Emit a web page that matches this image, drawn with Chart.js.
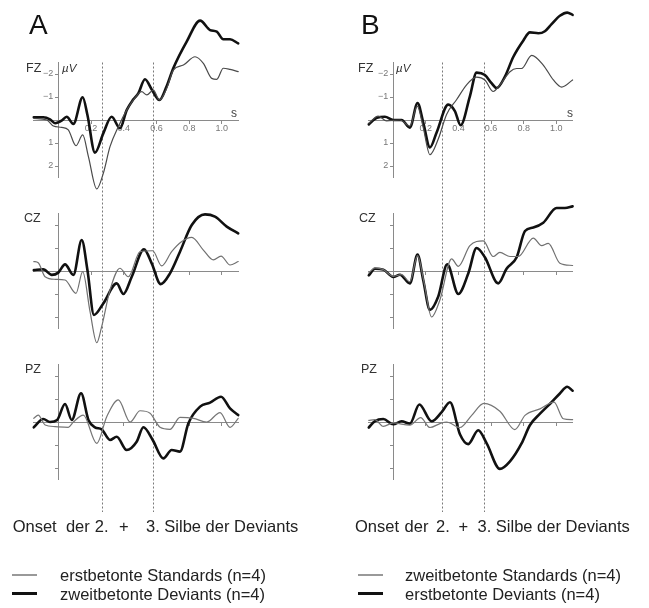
<!DOCTYPE html>
<html><head><meta charset="utf-8">
<script src="https://cdn.jsdelivr.net/npm/chart.js@4/dist/chart.umd.min.js"></script>
<style>
html,body{margin:0;padding:0;background:#fff;}
#wrap{position:relative;width:649px;height:608px;overflow:hidden;font-family:"Liberation Sans",Arial,Helvetica,sans-serif;color:#222;}
canvas{position:absolute;left:0;top:0;}
.t{position:absolute;white-space:pre;line-height:1;}
.lab{font-size:12.5px;color:#333;}
.uv{font-size:11.5px;color:#333;font-style:italic;}
.s{font-size:12px;color:#444;}
.big{font-size:28px;color:#111;}
.bt{font-size:16.5px;color:#222;}
.ln{position:absolute;}
</style></head><body><div id="wrap">
<canvas id="cA_FZ" width="649" height="608"></canvas>
<canvas id="cA_CZ" width="649" height="608"></canvas>
<canvas id="cA_PZ" width="649" height="608"></canvas>
<canvas id="cB_FZ" width="649" height="608"></canvas>
<canvas id="cB_CZ" width="649" height="608"></canvas>
<canvas id="cB_PZ" width="649" height="608"></canvas>

<div class="t big" style="left:29px;top:11px;">A</div>
<div class="t big" style="left:361px;top:11px;">B</div>

<div class="t lab" style="left:26px;top:62px;">FZ</div>
<div class="t uv" style="left:62px;top:63px;">µV</div>
<div class="t s" style="left:231px;top:107px;">s</div>
<div class="t lab" style="left:24px;top:212px;">CZ</div>
<div class="t lab" style="left:25px;top:363px;">PZ</div>

<div class="t lab" style="left:358px;top:62px;">FZ</div>
<div class="t uv" style="left:396px;top:63px;">µV</div>
<div class="t s" style="left:567px;top:107px;">s</div>
<div class="t lab" style="left:359px;top:212px;">CZ</div>
<div class="t lab" style="left:361px;top:363px;">PZ</div>

<div class="t bt" style="left:12.7px;top:518px;">Onset  der</div>
<div class="t bt" style="left:94.8px;top:518px;">2.</div>
<div class="t bt" style="left:119px;top:518px;">+</div>
<div class="t bt" style="left:146px;top:518px;">3. Silbe der Deviants</div>

<div class="t bt" style="left:355px;top:518px;word-spacing:1px;">Onset der</div>
<div class="t bt" style="left:436px;top:518px;">2.</div>
<div class="t bt" style="left:458.5px;top:518px;">+</div>
<div class="t bt" style="left:477.5px;top:518px;">3. Silbe der Deviants</div>

<div class="ln" style="left:12px;top:574px;width:25px;height:2px;background:#999;"></div>
<div class="t bt" style="left:60px;top:567px;">erstbetonte Standards (n=4)</div>
<div class="ln" style="left:12px;top:592px;width:25px;height:3px;background:#111;"></div>
<div class="t bt" style="left:60px;top:586px;">zweitbetonte Deviants (n=4)</div>

<div class="ln" style="left:358px;top:574px;width:25px;height:2px;background:#999;"></div>
<div class="t bt" style="left:405px;top:567px;">zweitbetonte Standards (n=4)</div>
<div class="ln" style="left:358px;top:592px;width:25px;height:3px;background:#111;"></div>
<div class="t bt" style="left:405px;top:586px;">erstbetonte Deviants (n=4)</div>
</div>
<script>
// ---------- data (time in s, amplitude in µV; negative plotted upward) ----------
const xTickValues = [0.2, 0.4, 0.6, 0.8, 1.0];
const yTickValues = [-2, -1, 1, 2];
const timeRange = [-0.15, 1.10];
const voltRange = [-2.5, 2.5];
const onsetA = [0.266, 0.577];
const onsetB = [0.300, 0.556];

// Panel A, FZ
const tA_FZ_std = [-0.15,-0.07,-0.03,0.02,0.061,0.108,0.149,0.184,0.235,0.275,0.316,0.367,0.418,0.459,0.51,0.541,0.581,0.618,0.663,0.703,0.765,0.836,0.887,0.938,0.969,1.009,1.05,1.10];
const vA_FZ_std = [-0.07,0,0.26,0.32,0.43,1.12,0.65,1.59,3.0,2.32,1.16,0.29,-0.43,-0.87,-1.23,-1.09,-1.30,-0.87,-1.38,-2.17,-2.39,-2.75,-2.46,-1.81,-1.77,-2.25,-2.20,-2.10];
const tA_FZ_dev = [-0.15,-0.092,-0.051,-0.02,0.02,0.051,0.092,0.149,0.178,0.224,0.275,0.326,0.377,0.418,0.459,0.489,0.530,0.571,0.618,0.663,0.703,0.785,0.867,0.928,0.969,1.009,1.050,1.10];
const vA_FZ_dev = [-0.12,-0.12,-0.03,0.14,0.03,-0.14,0.17,-0.99,-0.22,1.42,0.58,-0.14,0.36,-0.43,-0.90,-1.16,-1.77,-1.33,-0.87,-1.48,-2.25,-3.41,-4.32,-3.91,-3.84,-3.51,-3.51,-3.33];
// Panel A, CZ
const tA_CZ_std = [-0.15,-0.123,-0.081,-0.02,0.041,0.108,0.149,0.194,0.235,0.265,0.316,0.377,0.428,0.50,0.577,0.632,0.693,0.755,0.816,0.887,0.948,0.995,1.05,1.10];
const vA_CZ_std = [-0.41,-0.36,0.25,0.36,0.39,0.97,0.03,1.77,3.12,2.42,0.83,-0.12,0.25,-0.84,-0.88,-0.22,-0.84,-1.28,-1.46,-0.91,-0.48,-0.65,-0.26,-0.41];
const tA_CZ_dev = [-0.15,-0.092,-0.04,0,0.041,0.092,0.143,0.178,0.218,0.275,0.357,0.398,0.449,0.524,0.571,0.626,0.683,0.744,0.816,0.897,0.958,1.03,1.10];
const vA_CZ_dev = [-0.04,-0.07,0.17,0.07,-0.29,0.17,-1.35,-0.04,1.91,1.41,0.54,1.0,0.25,-0.94,-0.33,0.57,0.10,-0.84,-2.0,-2.46,-2.36,-1.93,-1.64];
// Panel A, PZ
const tA_PZ_std = [-0.15,-0.123,-0.081,-0.02,0.061,0.092,0.153,0.235,0.296,0.367,0.439,0.50,0.561,0.622,0.683,0.744,0.826,0.908,0.989,1.05,1.10];
const vA_PZ_std = [-0.16,-0.30,0.13,0.20,0.23,0,-0.30,0.93,-0.23,-0.96,0,-0.49,-0.38,0.23,0.32,-0.20,-0.16,0,-0.41,0.23,-0.16];
const tA_PZ_dev = [-0.15,-0.092,-0.051,-0.007,0.041,0.082,0.139,0.184,0.224,0.265,0.316,0.357,0.418,0.479,0.52,0.577,0.642,0.693,0.744,0.795,0.867,0.928,0.995,1.05,1.10];
const vA_PZ_dev = [0.23,-0.13,0,-0.09,-0.78,-0.09,-1.25,-0.09,0.23,0.32,0.78,0.64,1.22,0.86,0.23,0.78,1.58,1.22,1.29,0.06,-0.67,-0.84,-1.10,-0.59,-0.30];

// Panel B, FZ
const tB_FZ_std = [-0.15,-0.092,-0.041,0.041,0.102,0.147,0.184,0.225,0.276,0.327,0.389,0.45,0.511,0.562,0.613,0.654,0.716,0.757,0.787,0.849,0.92,0.982,1.033,1.10];
const vB_FZ_std = [0.14,-0.17,0.04,0,0.26,-0.6,0.33,1.51,0.83,-0.24,-0.89,-1.53,-1.86,-1.74,-1.24,-1.53,-2.1,-2.24,-2.24,-2.81,-2.39,-1.74,-1.43,-1.74];
const tB_FZ_dev = [-0.15,-0.10,-0.051,0,0.051,0.102,0.149,0.184,0.225,0.266,0.337,0.378,0.413,0.470,0.511,0.562,0.603,0.634,0.685,0.736,0.798,0.838,0.89,0.93,0.971,1.022,1.067,1.10];
const vB_FZ_dev = [0.19,-0.10,-0.14,0,0,0.33,-0.74,0.11,1.19,0.54,-0.67,-0.39,0.23,-1.03,-2.06,-1.96,-1.60,-1.39,-1.89,-2.74,-3.46,-3.81,-3.77,-3.86,-4.17,-4.53,-4.67,-4.57];
// Panel B, CZ
const tB_CZ_std = [-0.15,-0.112,-0.061,0,0.051,0.102,0.149,0.188,0.235,0.286,0.358,0.399,0.47,0.552,0.613,0.654,0.716,0.767,0.859,0.91,0.951,1.022,1.10];
const vB_CZ_std = [0.09,-0.14,-0.06,0.23,0.16,0.47,-0.67,0.47,2.0,1.26,-0.53,-0.2,-1.1,-1.31,-0.63,-0.81,-0.63,-0.63,-1.43,-1.1,-1.2,-0.34,-0.24];
const tB_CZ_dev = [-0.15,-0.112,-0.061,0,0.041,0.102,0.149,0.184,0.225,0.276,0.331,0.399,0.46,0.511,0.562,0.644,0.695,0.757,0.808,0.859,0.92,1.002,1.053,1.10];
const vB_CZ_dev = [0.19,-0.10,-0.06,0.26,0.16,0.54,-0.71,0.4,1.69,1.11,-0.29,1.0,0.11,-1.0,-0.6,0.54,-0.1,-0.6,-1.74,-1.89,-2.1,-2.74,-2.74,-2.81];
// Panel B, PZ
const tB_PZ_std = [-0.15,-0.112,-0.061,0,0.102,0.168,0.225,0.286,0.327,0.409,0.481,0.556,0.654,0.746,0.808,0.9,0.986,1.043,1.10];
const vB_PZ_std = [-0.07,-0.1,0.19,0.04,0.14,-0.19,0.24,0.07,0,0.24,-0.29,-0.81,-0.47,0.33,-0.29,-0.57,-0.86,-0.14,-0.1];
const tB_PZ_dev = [-0.15,-0.112,-0.061,0,0.051,0.102,0.16,0.235,0.297,0.348,0.409,0.46,0.521,0.573,0.654,0.716,0.787,0.838,0.9,0.971,1.022,1.067,1.10];
const vB_PZ_dev = [0.24,-0.04,-0.13,0.1,-0.03,0.07,-0.76,-0.03,-0.43,-0.86,0.53,0.96,0.36,0.93,2.04,1.71,0.93,0.14,-0.36,-0.86,-1.24,-1.53,-1.36];

// ---------- layout (pixels) ----------
const W = 649, H = 608, ROW_H = 115;
const panelGeom = { A: {left: 33.8, right: 238.2}, B: {left: 368.8, right: 572.6} };
const rowTop = { FZ: 62.5, CZ: 213.5, PZ: 364.5 };
const thinColor = { FZ: '#4a4a4a', CZ: '#707070', PZ: '#757575' };
const FONT = '"Liberation Sans", Arial, sans-serif';

function pts(t, v) { return t.map((x, i) => ({x: x, y: v[i]})); }

function onsetPlugin(onsets) {
  return {
    id: 'onsets',
    beforeDatasetsDraw(chart) {
      const c = chart.ctx, xs = chart.scales.x;
      c.save();
      c.strokeStyle = '#7a7a7a'; c.lineWidth = 1; c.setLineDash([2, 2]);
      onsets.forEach(t => {
        const x = Math.round(xs.getPixelForValue(t)) + 0.5;
        c.beginPath(); c.moveTo(x, chart.chartArea.top); c.lineTo(x, 512); c.stroke();
      });
      c.restore();
    }
  };
}

function makeChart(id, panel, row, tStd, vStd, tDev, vDev, showLabels, onsets) {
  const g = panelGeom[panel], top = rowTop[row];
  const axisCol = '#8a8a8a';
  const lineBase = {pointRadius: 0, fill: false, clip: false, cubicInterpolationMode: 'monotone',
                    borderJoinStyle: 'round', borderCapStyle: 'round'};
  return new Chart(document.getElementById(id), {
    type: 'line',
    data: { datasets: [
      Object.assign({label: 'std', data: pts(tStd, vStd), borderColor: thinColor[row], borderWidth: 1.2}, lineBase),
      Object.assign({label: 'dev', data: pts(tDev, vDev), borderColor: '#111', borderWidth: 2.6}, lineBase)
    ]},
    options: {
      responsive: false, animation: false, events: [],
      layout: { padding: { left: g.left, right: W - g.right, top: top, bottom: H - top - ROW_H } },
      plugins: { legend: {display: false}, tooltip: {enabled: false}, title: {display: false} },
      scales: {
        x: {
          type: 'linear', min: timeRange[0], max: timeRange[1], position: {y: 0},
          afterBuildTicks: s => { s.ticks = xTickValues.map(v => ({value: v})); },
          grid: {display: true, drawOnChartArea: false, drawTicks: true, tickLength: 3, color: axisCol, lineWidth: 1},
          border: {display: true, color: axisCol, width: 1},
          ticks: {autoSkip: false, maxRotation: 0, padding: 0, color: '#777', font: {family: FONT, size: 9},
                  callback: v => showLabels ? Number(v).toFixed(1) : ''}
        },
        y: {
          type: 'linear', min: voltRange[0], max: voltRange[1], reverse: true, position: {x: 0},
          afterBuildTicks: s => { s.ticks = yTickValues.map(v => ({value: v})); },
          grid: {display: true, drawOnChartArea: false, drawTicks: true, tickLength: 3, color: axisCol, lineWidth: 1},
          border: {display: true, color: axisCol, width: 1},
          ticks: {autoSkip: false, padding: 0, color: '#777', font: {family: FONT, size: 9},
                  callback: v => showLabels ? ((v < 0 ? '\u2212' + Math.abs(v) : String(v)) + '  ') : ''}
        }
      }
    },
    plugins: onsets ? [onsetPlugin(onsets)] : []
  });
}

makeChart('cA_FZ', 'A', 'FZ', tA_FZ_std, vA_FZ_std, tA_FZ_dev, vA_FZ_dev, true, onsetA);
makeChart('cA_CZ', 'A', 'CZ', tA_CZ_std, vA_CZ_std, tA_CZ_dev, vA_CZ_dev, false, null);
makeChart('cA_PZ', 'A', 'PZ', tA_PZ_std, vA_PZ_std, tA_PZ_dev, vA_PZ_dev, false, null);
makeChart('cB_FZ', 'B', 'FZ', tB_FZ_std, vB_FZ_std, tB_FZ_dev, vB_FZ_dev, true, onsetB);
makeChart('cB_CZ', 'B', 'CZ', tB_CZ_std, vB_CZ_std, tB_CZ_dev, vB_CZ_dev, false, null);
makeChart('cB_PZ', 'B', 'PZ', tB_PZ_std, vB_PZ_std, tB_PZ_dev, vB_PZ_dev, false, null);
</script>
</body></html>
